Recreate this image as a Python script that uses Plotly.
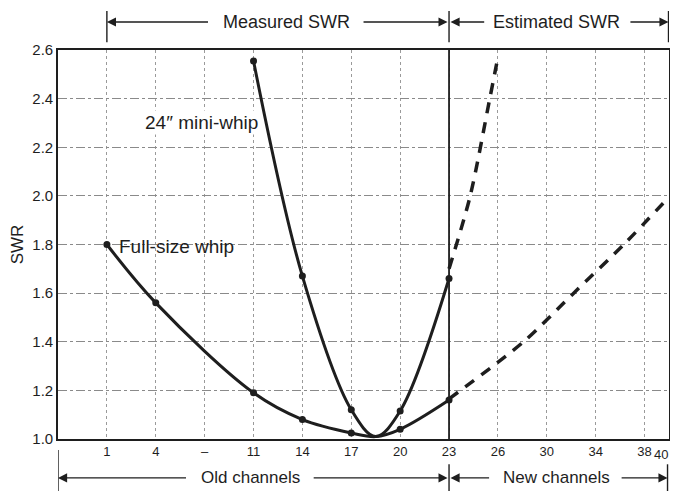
import numpy as np
import plotly.graph_objects as go

# ---- data ----
tick_labels = ["1", "4", "–", "11", "14", "17", "20", "23", "26", "30", "34", "38", "40"]
tick_channels = [1, 4, 7.5, 11, 14, 17, 20, 23, 26, 30, 34, 38, 40]
tick_pos = [1, 2, 3, 4, 5, 6, 7, 8, 9, 10, 11, 12, 12.5]

full_meas_ch = [1, 4, 11, 14, 17, 20, 23]
full_meas_swr = [1.80, 1.56, 1.19, 1.08, 1.025, 1.04, 1.16]
full_curve_ch = [1, 4, 11, 14, 17, 18.5, 20, 23]
full_curve_swr = [1.80, 1.56, 1.19, 1.08, 1.025, 1.01, 1.04, 1.16]

mini_meas_ch = [11, 14, 17, 20, 23]
mini_meas_swr = [2.555, 1.67, 1.12, 1.115, 1.66]
mini_curve_ch = [11, 14, 17, 18.5, 20, 23]
mini_curve_swr = [2.555, 1.67, 1.12, 1.01, 1.115, 1.66]

mini_est_ch = [23.0, 24.3, 25.5, 26.0]
mini_est_swr = [1.70, 2.00, 2.40, 2.57]
full_est_ch = [23.0, 28.1, 32.2, 36.3, 40.0]
full_est_swr = [1.165, 1.40, 1.60, 1.80, 1.995]

y_ticks = [1.0, 1.2, 1.4, 1.6, 1.8, 2.0, 2.2, 2.4, 2.6]


def pos(ch):
    return np.interp(ch, tick_channels, tick_pos)


INK = "#1e1e1e"
FONT = "Liberation Sans, Arial, sans-serif"

fig = go.Figure()

for cx, cy in [(full_curve_ch, full_curve_swr), (mini_curve_ch, mini_curve_swr)]:
    fig.add_trace(go.Scatter(x=pos(cx), y=cy, mode="lines",
                             line=dict(color=INK, width=3, shape="spline", smoothing=1.0),
                             showlegend=False, hoverinfo="skip"))
for cx, cy in [(full_est_ch, full_est_swr), (mini_est_ch, mini_est_swr)]:
    fig.add_trace(go.Scatter(x=pos(cx), y=cy, mode="lines",
                             line=dict(color=INK, width=3.5, dash="11px,9px", shape="spline", smoothing=0.8),
                             showlegend=False, hoverinfo="skip"))
for mx, my in [(full_meas_ch, full_meas_swr), (mini_meas_ch, mini_meas_swr)]:
    fig.add_trace(go.Scatter(x=pos(mx), y=my, mode="markers",
                             marker=dict(color=INK, size=7),
                             showlegend=False))

# vertical boundary at channel 23
fig.add_shape(type="line", xref="x", yref="y", x0=8, x1=8, y0=1.0, y1=2.6,
              line=dict(color=INK, width=1.8))

# curve labels
fig.add_annotation(x=2.93, y=2.30, text="24\u2033 mini-whip", showarrow=False,
                   font=dict(size=19, color=INK, family=FONT), bgcolor="white")
fig.add_annotation(x=1.2, y=1.79, xanchor="left", text="Full-size whip", showarrow=False,
                   font=dict(size=19, color=INK, family=FONT))

# last x tick label drawn right-aligned so it stays inside the figure
fig.add_annotation(x=tick_pos[-1], y=0, xref="x", yref="paper", text=tick_labels[-1],
                   showarrow=False, xanchor="right", yanchor="middle", xshift=1, yshift=-15,
                   font=dict(size=13, color=INK, family=FONT))

# range annotations (top and bottom)
def span_arrow(x_tail, x_tip, yp):
    fig.add_annotation(x=x_tip, y=yp, ax=x_tail, ay=0, xref="x", yref="paper",
                       axref="x", ayref="pixel", text="", showarrow=True,
                       arrowhead=2, arrowsize=1.3, arrowwidth=1.4, arrowcolor=INK)

def vbar(x, y0, y1):
    fig.add_shape(type="line", xref="x", yref="paper", x0=x, x1=x, y0=y0, y1=y1,
                  line=dict(color=INK, width=1.4))

def span_label(x, y, text, size=18):
    fig.add_annotation(x=x, y=y, xref="x", yref="paper", text=text, showarrow=False,
                       xanchor="center", yanchor="middle",
                       font=dict(size=size, color=INK, family=FONT))

ytop = 1.072
span_label(4.67, ytop, "Measured SWR")
span_arrow(3.1, 1.0, ytop)
span_arrow(6.22, 7.97, ytop)
span_label(10.2, ytop, "Estimated SWR")
span_arrow(8.75, 8.03, ytop)
span_arrow(11.68, 12.49, ytop)
vbar(1, 1.02, 1.10)
vbar(8, 1.02, 1.10)
vbar(12.49, 1.02, 1.10)

ybot = -0.100
span_label(3.93, ybot, "Old channels", 17)
span_arrow(2.65, 0.0, ybot)
span_arrow(5.2, 7.97, ybot)
span_label(10.2, ybot, "New channels", 17)
span_arrow(8.85, 8.03, ybot)
span_arrow(11.5, 12.47, ybot)
vbar(0, -0.028, -0.16)
vbar(8, -0.065, -0.16)
vbar(12.47, -0.065, -0.16)

fig.update_layout(
    width=662, height=483,
    margin=dict(l=50, r=1, t=42, b=52),
    paper_bgcolor="white", plot_bgcolor="white",
    font=dict(family=FONT, size=15, color=INK),
    xaxis=dict(range=[0, 12.5], tickvals=tick_pos[:-1], ticktext=tick_labels[:-1],
               showgrid=True, gridcolor="#9a9a9a", griddash="dot", gridwidth=1,
               showline=True, linecolor=INK, linewidth=1.6, mirror=True,
               ticks="", zeroline=False, tickfont=dict(size=13), automargin=False),
    yaxis=dict(range=[1.0, 2.6], tickvals=y_ticks, ticktext=[f"{v:.1f}" for v in y_ticks],
               showgrid=True, gridcolor="#8a8a8a", griddash="dashdot", gridwidth=1,
               showline=True, linecolor=INK, linewidth=1.6, mirror=True,
               ticks="", zeroline=False, tickfont=dict(size=15), automargin=False,
               title=dict(text="SWR", font=dict(size=17), standoff=6)),
)

fig.write_html("out.html")
